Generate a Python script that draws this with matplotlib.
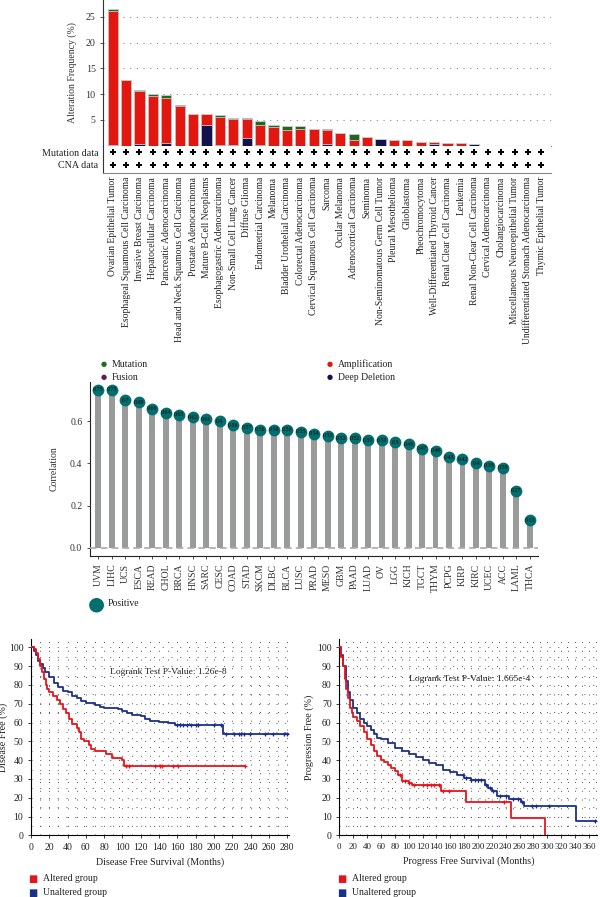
import matplotlib
matplotlib.use('Agg')
import matplotlib.pyplot as plt
import numpy as np

plt.rcParams['font.family'] = ['Liberation Serif', 'DejaVu Serif']

# ---- top panel: alteration frequency by cancer type ----
cancer_types = ['Ovarian Epithelial Tumor', 'Esophageal Squamous Cell Carcinoma', 'Invasive Breast Carcinoma',
                'Hepatocellular Carcinoma', 'Pancreatic Adenocarcinoma', 'Head and Neck Squamous Cell Carcinoma',
                'Prostate Adenocarcinoma', 'Mature B-Cell Neoplasms', 'Esophagogastric Adenocarcinoma',
                'Non-Small Cell Lung Cancer', 'Diffuse Glioma', 'Endometrial Carcinoma', 'Melanoma',
                'Bladder Urothelial Carcinoma', 'Colorectal Adenocarcinoma', 'Cervical Squamous Cell Carcinoma',
                'Sarcoma', 'Ocular Melanoma', 'Adrenocortical Carcinoma', 'Seminoma',
                'Non-Seminomatous Germ Cell Tumor', 'Pleural Mesothelioma', 'Glioblastoma', 'Pheochromocytoma',
                'Well-Differentiated Thyroid Cancer', 'Renal Clear Cell Carcinoma', 'Leukemia',
                'Renal Non-Clear Cell Carcinoma', 'Cervical Adenocarcinoma', 'Cholangiocarcinoma',
                'Miscellaneous Neuroepithelial Tumor', 'Undifferentiated Stomach Adenocarcinoma',
                'Thymic Epithelial Tumor']
deep_del = [0.2, 0, 0.3, 0, 0.5, 0, 0, 4.1, 0.2, 0.2, 1.5, 0.2, 0, 0, 0, 0, 0.3, 0, 0, 0,
            1.25, 0, 0, 0, 0.35, 0, 0, 0.3, 0, 0, 0, 0, 0]
amplification = [26.0, 12.7, 10.3, 9.7, 8.7, 7.8, 6.2, 2.1, 5.4, 4.9, 3.6, 3.8, 3.6, 3.1, 3.2, 3.2,
                 2.7, 2.5, 1.2, 1.7, 0, 1.2, 1.05, 0.7, 0.3, 0.6, 0.55, 0, 0, 0, 0, 0, 0]
mutation = [0.3, 0, 0.2, 0.3, 0.6, 0, 0, 0, 0.4, 0.2, 0, 0.8, 0.5, 0.8, 0.7, 0,
            0, 0, 1.1, 0, 0, 0, 0, 0, 0, 0, 0, 0, 0, 0, 0, 0, 0]
fusion = [0, 0, 0, 0, 0, 0.2, 0, 0, 0, 0, 0.2, 0, 0, 0, 0, 0,
          0.2, 0, 0, 0, 0, 0, 0, 0, 0, 0, 0, 0, 0, 0, 0, 0, 0]

# ---- middle panel: correlation ----
tcga = ['UVM', 'LIHC', 'UCS', 'ESCA', 'READ', 'CHOL', 'BRCA', 'HNSC', 'SARC', 'CESC', 'COAD', 'STAD',
        'SKCM', 'DLBC', 'BLCA', 'LUSC', 'PRAD', 'MESO', 'GBM', 'PAAD', 'LUAD', 'OV', 'LGG', 'KICH',
        'TGCT', 'THYM', 'PCPG', 'KIRP', 'KIRC', 'UCEC', 'ACC', 'LAML', 'THCA']
corr = [0.75, 0.75, 0.7, 0.69, 0.66, 0.64, 0.63, 0.62, 0.61, 0.6, 0.58, 0.57, 0.56, 0.56, 0.56, 0.55,
        0.54, 0.53, 0.52, 0.52, 0.51, 0.51, 0.5, 0.49, 0.47, 0.46, 0.43, 0.42, 0.4, 0.39, 0.38, 0.27, 0.13]

# ---- bottom panels: Kaplan-Meier curves (step points) ----
dfs_alt_t = [0, 3, 5, 8, 10, 12, 14, 16, 18, 20, 24, 28, 32, 35, 38, 42, 45, 50, 53, 55, 58, 63, 66, 70,
             82, 88, 100, 102, 234]
dfs_alt_s = [100, 99, 97, 94, 90, 87, 83, 80, 78, 76, 74, 72, 70, 67, 65, 62, 59, 57, 55, 51, 50, 48, 46, 45,
             43, 41, 40, 37, 37]
dfs_alt_cens = [104, 107, 135, 141, 143, 155, 161, 234]
dfs_un_t = [0, 3, 5, 8, 10, 13, 15, 20, 25, 30, 35, 40, 45, 50, 55, 60, 70, 75, 80, 90, 95, 100, 105, 110,
            120, 125, 130, 140, 150, 157, 210, 282]
dfs_un_s = [100, 98, 96, 93, 91, 89, 87, 84, 81, 79, 77, 76, 74, 73, 71.5, 70.5, 69.5, 68.5, 68, 67.5, 67,
            66, 65, 64, 63.5, 62, 61, 60.5, 60, 58.5, 54, 54]
dfs_un_cens = [160, 163, 166, 170, 175, 180, 183, 200, 208, 213, 222, 227, 230, 233, 239, 256, 264, 276, 280]

pfs_alt_t = [0, 3, 5, 8, 10, 13, 15, 18, 20, 25, 30, 35, 40, 45, 50, 55, 60, 65, 70, 75, 80, 85, 90,
             100, 105, 147, 183, 248, 297]
pfs_alt_s = [100, 95, 90, 83, 78, 73, 68, 65, 63, 61, 58, 55, 51, 48, 45, 42, 40, 39, 37.5, 36, 34, 32, 29,
             28, 27, 23.5, 17.5, 9, 0]
pfs_alt_cens = [88, 95, 100, 107, 120, 127, 132, 137, 144, 150, 158, 238]
pfs_un_t = [0, 3, 6, 10, 13, 16, 20, 25, 30, 35, 40, 45, 50, 55, 60, 70, 80, 90, 100, 110, 120, 130, 140,
            150, 160, 170, 180, 190, 210, 215, 220, 228, 245, 262, 266, 341, 372]
pfs_un_s = [100, 96, 90, 82, 76, 72, 68, 65, 62, 60, 58, 56, 54, 52, 51, 49, 46.5, 45, 43, 41.5, 40, 38.5,
            37.5, 35, 33.5, 32, 30.5, 29.5, 27, 25, 23.5, 21, 19.5, 17.5, 15.5, 7.5, 7.5]
pfs_un_cens = [178, 183, 190, 195, 200, 205, 212, 218, 222, 232, 240, 250, 258, 264, 278, 283, 303, 368]

RED = '#e2170f'
GREEN = '#1e6b1e'
NAVY = '#13124f'
PURPLE = '#5e1b5e'
TEAL = '#006f6d'
STEM = '#999b9b'
KM_RED = '#e8141b'
KM_BLUE = '#1b3187'

fig = plt.figure(figsize=(6, 8.97), dpi=100)


def fx(px):
    return px / 600.0


def fy(py):
    return 1 - py / 897.0


# ================= top panel =================
ax = fig.add_axes([fx(103.3), fy(145.7), fx(550.7 - 103.3), 145.7 / 897])
x = np.arange(len(cancer_types))
dd = np.array(deep_del)
am = np.array(amplification)
mu = np.array(mutation)
fu = np.array(fusion)
kw = dict(width=0.76, edgecolor='#c8c8c8', linewidth=0.5, zorder=3)
ax.bar(x, dd, color=NAVY, **kw)
ax.bar(x, am, bottom=dd, color=RED, **kw)
ax.bar(x, mu, bottom=dd + am, color=GREEN, **kw)
ax.bar(x, fu, bottom=dd + am + mu, color=PURPLE, **kw)
ax.set_xlim(-0.7, len(cancer_types) - 0.3)
ax.set_ylim(0, 28.3)
ax.set_yticks([5, 10, 15, 20, 25])
ax.tick_params(axis='y', labelsize=7.2, length=2, width=0.6, colors='#333333')
ax.set_xticks([])
for v in [5, 10, 15, 20, 25]:
    ax.axhline(v, color='#888888', lw=0.8, ls=(0, (1, 5)), zorder=1)
ax.set_ylabel('Alteration Frequency (%)', fontsize=7, color='#333333', labelpad=6)
for s in ['top', 'right']:
    ax.spines[s].set_visible(False)
ax.spines['bottom'].set_color('#888888')
ax.spines['left'].set_color('#333333')

axr = fig.add_axes([fx(103.3), fy(172.7), fx(550.7 - 103.3), 27 / 897])
axr.set_xlim(-0.7, len(cancer_types) - 0.3)
axr.set_ylim(0, 2)
axr.scatter(x, np.full(len(x), 1.5), marker='P', s=14, color='black', linewidths=0)
axr.scatter(x, np.full(len(x), 0.6), marker='P', s=14, color='black', linewidths=0)
axr.set_yticks([1.5, 0.6])
axr.set_yticklabels(['Mutation data', 'CNA data'], fontsize=7.2, color='#222222')
axr.tick_params(axis='y', length=0)
axr.set_xticks(x)
axr.set_xticklabels(cancer_types, rotation=90, fontsize=6.9, color='#222222')
axr.tick_params(axis='x', length=0, pad=3)
for s in ['top', 'right']:
    axr.spines[s].set_visible(False)
axr.spines['bottom'].set_color('#888888')
axr.spines['left'].set_color('#333333')

leg_top = [('Mutation', GREEN, 104, 364), ('Fusion', PURPLE, 104, 377),
           ('Amplification', RED, 330, 364), ('Deep Deletion', NAVY, 330, 377)]
for name, col, px, py in leg_top:
    fig.text(fx(px), fy(py), '\u25cf', color=col, fontsize=5, ha='center', va='center',
             family=['DejaVu Sans'])
    fig.text(fx(px + 8), fy(py), name, fontsize=7, color='#222222', ha='left', va='center')

# ================= middle panel =================
axm = fig.add_axes([fx(90), fy(556), fx(538 - 90), 174 / 897])
xm = np.arange(len(tcga))
axm.bar(xm, corr, width=0.44, color=STEM, zorder=2)
axm.axhline(0, color='#aaaaaa', lw=1.2, ls=(0, (4, 2.5)), zorder=3)
axm.scatter(xm, corr, s=72, color=TEAL, zorder=4, linewidths=0)
for xi, v in zip(xm, corr):
    axm.text(xi, v, '%g' % v, fontsize=4.2, ha='center', va='center', color='black', zorder=5)
axm.set_xlim(-0.62, len(tcga) - 0.4)
axm.set_ylim(-0.039, 0.786)
axm.set_yticks([0.0, 0.2, 0.4, 0.6])
axm.set_yticklabels(['0.0', '0.2', '0.4', '0.6'])
axm.tick_params(axis='y', labelsize=7, length=2, width=0.6, colors='#333333')
axm.set_xticks(xm)
axm.set_xticklabels(tcga, rotation=90, fontsize=7, color='#333333')
axm.tick_params(axis='x', length=2, width=0.6, colors='#333333')
axm.set_ylabel('Correlation', fontsize=7, color='#333333', labelpad=8)
for s in ['top', 'right']:
    axm.spines[s].set_visible(False)
axm.spines['left'].set_color('#222222')
axm.spines['bottom'].set_color('#222222')

fig.text(fx(96.7), fy(603.5), '\u25cf', color=TEAL, fontsize=14, ha='center', va='center',
         family=['DejaVu Sans'])
fig.text(fx(108), fy(603.5), 'Positive', fontsize=7, color='#222222', ha='left', va='center')


# ================= bottom panels =================
def surv_at(times, surv, t):
    idx = np.searchsorted(times, t, side='right') - 1
    return np.array(surv)[idx]


def km_panel(rect, alt_t, alt_s, alt_c, un_t, un_s, un_c, xmax, xticks, xlabel, ylabel, ptext, ppos,
             ylx, xfs):
    a = fig.add_axes(rect)
    a.step(un_t, un_s, where='post', color=KM_BLUE, lw=1.3, zorder=3)
    a.plot(un_c, surv_at(un_t, un_s, un_c), ls='none', marker='+', ms=3.5, mew=0.9,
           color=KM_BLUE, zorder=3)
    a.step(alt_t, alt_s, where='post', color=KM_RED, lw=1.3, zorder=4)
    a.plot(alt_c, surv_at(alt_t, alt_s, alt_c), ls='none', marker='+', ms=3.5, mew=0.9,
           color=KM_RED, zorder=4)
    a.set_xlim(0, xmax)
    a.set_ylim(0, 104.3)
    a.set_xticks(xticks)
    a.set_yticks(range(0, 101, 10))
    a.set_xticks(np.arange(0, xmax, 10), minor=True)
    a.set_yticks(np.arange(0, 104, 5), minor=True)
    a.grid(True, which='both', color='#555555', lw=0.7, ls=(0, (1, 8)), zorder=0)
    a.tick_params(axis='y', labelsize=7, length=2, width=0.6, colors='#222222')
    a.tick_params(axis='x', labelsize=xfs, length=2, width=0.6, colors='#222222')
    a.tick_params(which='minor', length=0)
    a.set_xlabel(xlabel, fontsize=7.2, color='#222222', labelpad=4)
    a.set_ylabel(ylabel, fontsize=7.2, color='#222222')
    a.yaxis.set_label_coords(ylx, 0.5)
    for s in ['top', 'right']:
        a.spines[s].set_visible(False)
    a.text(ppos[0], ppos[1], ptext, fontsize=6.8, color='#222222', ha='center', va='center')
    return a


km_panel([fx(31), fy(835.3), fx(258), 196 / 897], dfs_alt_t, dfs_alt_s, dfs_alt_cens,
         dfs_un_t, dfs_un_s, dfs_un_cens, 282, range(0, 281, 20),
         'Disease Free Survival (Months)', 'Disease Free (%)', 'Logrank Test P-Value: 1.26e-8', (150, 87),
         -0.088, 7)
km_panel([fx(339.3), fy(835.3), fx(258), 196 / 897], pfs_alt_t, pfs_alt_s, pfs_alt_cens,
         pfs_un_t, pfs_un_s, pfs_un_cens, 372, range(0, 361, 20),
         'Progress Free Survival (Months)', 'Progression Free (%)', 'Logrank Test P-Value: 1.665e-4', (188, 83),
         -0.1, 6.5)

for px in [33, 341.7]:
    fig.text(fx(px), fy(878.5), '\u25a0', color=KM_RED, fontsize=7, ha='center', va='center',
             family=['DejaVu Sans'])
    fig.text(fx(px + 10), fy(878.5), 'Altered group', fontsize=7, color='#222222', ha='left', va='center')
    fig.text(fx(px), fy(892.5), '\u25a0', color=KM_BLUE, fontsize=7, ha='center', va='center',
             family=['DejaVu Sans'])
    fig.text(fx(px + 10), fy(892.5), 'Unaltered group', fontsize=7, color='#222222', ha='left', va='center')

fig.savefig('out.png', dpi=100)
